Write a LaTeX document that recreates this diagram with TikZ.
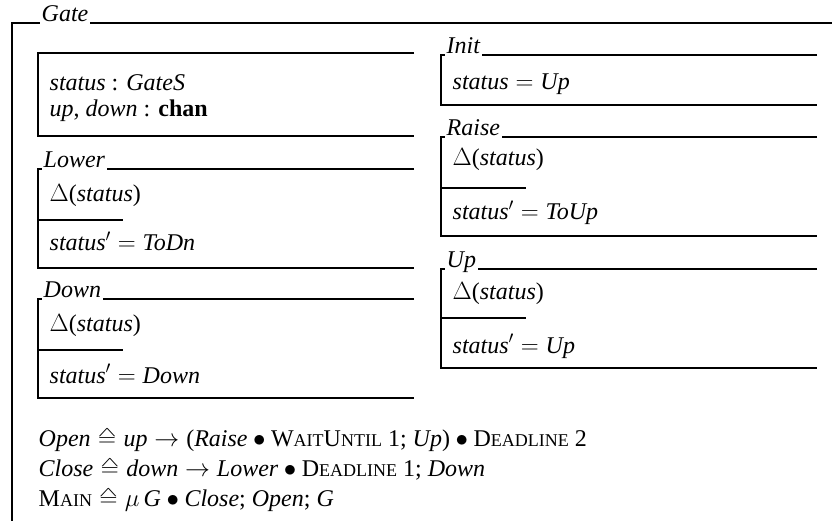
\documentclass[tikz,border=0pt]{standalone}
\usepackage{fontspec}
\setmainfont{Liberation Serif}
\newcommand{\iz}[1]{\textit{#1}}
\newcommand{\fsc}[2]{#1{\fontsize{18}{18}\selectfont #2}}
\newcommand{\hateq}{\mathrel{\vbox{\offinterlineskip\halign{\hfil##\hfil\cr\scalebox{1.15}[0.55]{$\wedge$}\cr\noalign{\kern1pt}$=$\cr}}}}
\begin{document}
\begin{tikzpicture}[x=1pt,y=-1pt, line width=1.4pt,
  txt/.style={anchor=base west, inner sep=0pt, font=\fontsize{24}{28}\selectfont},
  ttl/.style={anchor=base west, fill=white, inner xsep=2pt, inner ysep=3pt, font=\fontsize{24}{28}\selectfont\itshape}]
\useasboundingbox (0,0) rectangle (832,521);

% outer class box
\draw (12,521) -- (12,23) -- (832,23);
\node[ttl] (tGate) at (39,22) {Gate};

% state schema
\draw (414,53) -- (38,53) -- (38,136) -- (414,136);
\node[txt] (s1) at (49,91) {\iz{status} : \iz{GateS}};
\node[txt] (s2) at (49,117) {\iz{up}, \iz{down} : \textbf{chan}};

% Lower
\draw (414,169) -- (38,169) -- (38,268) -- (414,268);
\draw (38,220) -- (123,220);
\node[ttl] (tLower) at (41,168) {Lower};
\node[txt] (lw1) at (49,202) {$\Delta$(\iz{status})};
\node[txt] (lw2) at (49,251) {\iz{status}$'{}={}$\iz{ToDn}};

% Down
\draw (414,299) -- (38,299) -- (38,398) -- (414,398);
\node[ttl] (tDown) at (41,298) {Down};
\draw (38,350) -- (123,350);
\node[txt] (dn1) at (49,331) {$\Delta$(\iz{status})};
\node[txt] (dn2) at (49,383) {\iz{status}$'{}={}$\iz{Down}};

% Init
\draw (817,55) -- (441,55) -- (441,105) -- (817,105);
\node[ttl] (tInit) at (444,54) {Init};
\node[txt] (in1) at (452,90) {\iz{status}${}={}$\iz{Up}};

% Raise
\draw (817,137) -- (441,137) -- (441,236) -- (817,236);
\node[ttl] (tRaise) at (444,136) {Raise};
\draw (441,188) -- (526,188);
\node[txt] (ra1) at (452,166) {$\Delta$(\iz{status})};
\node[txt] (ra2) at (452,220) {\iz{status}$'{}={}$\iz{ToUp}};

% Up
\draw (817,269) -- (441,269) -- (441,368) -- (817,368);
\node[ttl] (tUp) at (444,268) {Up};
\draw (441,318) -- (526,318);
\node[txt] (up1) at (452,299) {$\Delta$(\iz{status})};
\node[txt] (up2) at (452,353) {\iz{status}$'{}={}$\iz{Up}};

% operations
\node[txt] (l1) at (38,446) {\iz{Open}${}\hateq{}$\iz{up}${}\rightarrow{}$(\iz{Raise}${}\bullet{}$\fsc{W}{AIT}\fsc{U}{NTIL}\ 1;\ \iz{Up})${}\bullet{}$\fsc{D}{EADLINE}\ 2};
\node[txt] (l2) at (38,476) {\iz{Close}${}\hateq{}$\iz{down}${}\rightarrow{}$\iz{Lower}${}\bullet{}$\fsc{D}{EADLINE}\ 1;\ \iz{Down}};
\node[txt] (l3) at (38,506) {\fsc{M}{AIN}${}\hateq\mu\,{}$\iz{G}${}\bullet{}$\iz{Close};\ \iz{Open};\ \iz{G}};
\end{tikzpicture}
\end{document}
